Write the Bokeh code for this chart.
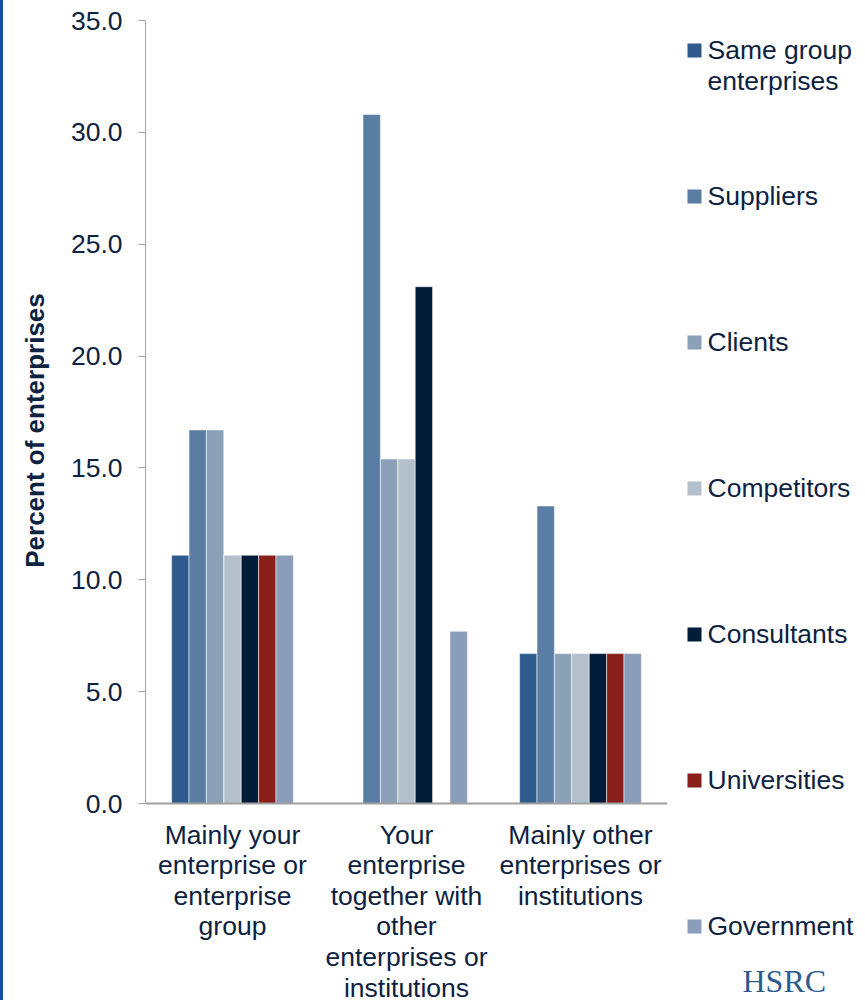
import math
from bokeh.plotting import figure
from bokeh.models import (Range1d, FactorRange, FixedTicker, NumeralTickFormatter,
                          ColumnDataSource, Spacer)
from bokeh.transform import dodge
from bokeh.layouts import row
from bokeh.embed import file_html
from bokeh.resources import INLINE
from bokeh.core.properties import value

# ---------------- data ----------------
categories = [
    "Mainly your\nenterprise or\nenterprise\ngroup",
    "Your\nenterprise\ntogether with\nother\nenterprises or\ninstitutions",
    "Mainly other\nenterprises or\ninstitutions",
]
series_names = ["Same group enterprises", "Suppliers", "Clients", "Competitors",
                "Consultants", "Universities", "Government"]
legend_labels = ["Same group\nenterprises", "Suppliers", "Clients", "Competitors",
                 "Consultants", "Universities", "Government"]

same_group = [11.1, 0.0, 6.7]
suppliers = [16.7, 30.8, 13.3]
clients = [16.7, 15.4, 6.7]
competitors = [11.1, 15.4, 6.7]
consultants = [11.1, 23.1, 6.7]
universities = [11.1, 0.0, 6.7]
government = [11.1, 7.7, 6.7]

y_ticks = [0, 5, 10, 15, 20, 25, 30, 35]
y_label = "Percent of enterprises"

# ---------------- style ----------------
colors = ["#2E5B8B", "#5A7DA3", "#8AA1B8", "#B3C0CC", "#011C38", "#891E1A", "#8A9DBA"]
TEXT = "#0D2240"
FONT = "Liberation Sans"
FS = "26.5px"
H = 1000
EDGE = 3
YLAB_W = 60 - EDGE
MAIN_LEFT = 60
W_MAIN = 680 - MAIN_LEFT
W_LEG = 865 - 680
FRAME_TOP = 20
AXIS_Y = 803          # pixel row of the value 0
Y_MAX = 35
TITLE_X = 34.5        # pixel position of the centre of the y-axis title
TITLE_Y = 430

all_series = [same_group, suppliers, clients, competitors, consultants, universities, government]

# the frame reaches the bottom of the canvas; the x axis sits at y = 0
px_per_unit = (AXIS_Y - FRAME_TOP) / Y_MAX
y_start = -(H - AXIS_Y) / px_per_unit

p = figure(
    x_range=FactorRange(factors=categories, range_padding=0),
    y_range=Range1d(y_start, Y_MAX),
    width=W_MAIN, height=H,
    output_backend="svg", toolbar_location=None,
    min_border_left=145 - MAIN_LEFT, min_border_top=FRAME_TOP, min_border_right=13,
    min_border_bottom=0,
)
p.frame_align = False

n = len(all_series)
bw = 0.1
for i, (vals, col) in enumerate(zip(all_series, colors)):
    xs = [c for c, v in zip(categories, vals) if v > 0]
    ts = [v for v in vals if v > 0]
    src = ColumnDataSource(dict(x=xs, top=ts))
    p.vbar(x=dodge("x", (i - (n - 1) / 2) * bw, range=p.x_range), top="top", width=bw,
           source=src, fill_color=col, line_color="white", line_alpha=0.55, line_width=1)

p.xgrid.grid_line_color = None
p.ygrid.grid_line_color = None
p.outline_line_color = None
p.background_fill_color = "white"
p.border_fill_color = "white"

# y axis
p.yaxis.bounds = (0, Y_MAX)
p.yaxis.ticker = FixedTicker(ticks=y_ticks)
p.yaxis.formatter = NumeralTickFormatter(format="0.0")
p.yaxis.minor_tick_line_color = None
p.yaxis.major_tick_in = 0
p.yaxis.major_tick_out = 7
p.yaxis.axis_line_color = "#A6A6A6"
p.yaxis.major_tick_line_color = "#A6A6A6"
p.yaxis.major_label_standoff = 16
p.yaxis.major_label_text_font = FONT
p.yaxis.major_label_text_font_size = FS
p.yaxis.major_label_text_color = TEXT

# x axis
p.xaxis.fixed_location = 0
p.xaxis.major_tick_line_color = None
p.xaxis.minor_tick_line_color = None
p.xaxis.axis_line_color = "#A0A0A0"
p.xaxis.axis_line_width = 2
p.xaxis.major_label_standoff = 10
p.xaxis.major_label_text_font = FONT
p.xaxis.major_label_text_font_size = FS
p.xaxis.major_label_text_color = TEXT
p.xaxis.major_label_text_line_height = 1.02

# ---------------- y-axis title panel ----------------
ylab = figure(
    width=YLAB_W, height=H,
    x_range=Range1d(EDGE, MAIN_LEFT), y_range=Range1d(0, H),
    output_backend="svg", toolbar_location=None,
    x_axis_location=None, y_axis_location=None, min_border=0,
)
ylab.frame_align = False
ylab.xgrid.grid_line_color = None
ylab.ygrid.grid_line_color = None
ylab.outline_line_color = None
ylab.text(x=[TITLE_X], y=[H - TITLE_Y], text=[y_label], angle=math.pi / 2,
          text_font=value(FONT), text_font_size="26px", text_font_style="bold",
          text_color=TEXT, text_align="center", text_baseline="middle")

# ---------------- legend panel ----------------
leg = figure(
    width=W_LEG, height=H,
    x_range=Range1d(680, 680 + W_LEG), y_range=Range1d(H, 0),
    output_backend="svg", toolbar_location=None,
    x_axis_location=None, y_axis_location=None, min_border=0,
)
leg.frame_align = False
leg.xgrid.grid_line_color = None
leg.ygrid.grid_line_color = None
leg.outline_line_color = None

item_y = [50 + 146 * i for i in range(len(series_names))]
leg.rect(x=[694] * len(item_y), y=item_y, width=14, height=14,
         fill_color=colors, line_color=None)
leg.text(x=[707] * len(item_y), y=item_y, text=legend_labels,
         text_font=value(FONT), text_font_size=FS, text_color=TEXT,
         text_baseline="top", y_offset=-16, text_line_height=1.06)

leg.text(x=[742], y=[980], text=["HSRC"], text_font=value("Liberation Serif"),
         text_font_size="32px", text_color="#2E5B8E", text_baseline="alphabetic")

edge = Spacer(width=EDGE, height=H, styles={"background-color": "#1C4E96"})

layout = row(edge, ylab, p, leg, spacing=0)
open("out.html", "w").write(file_html(layout, INLINE))
